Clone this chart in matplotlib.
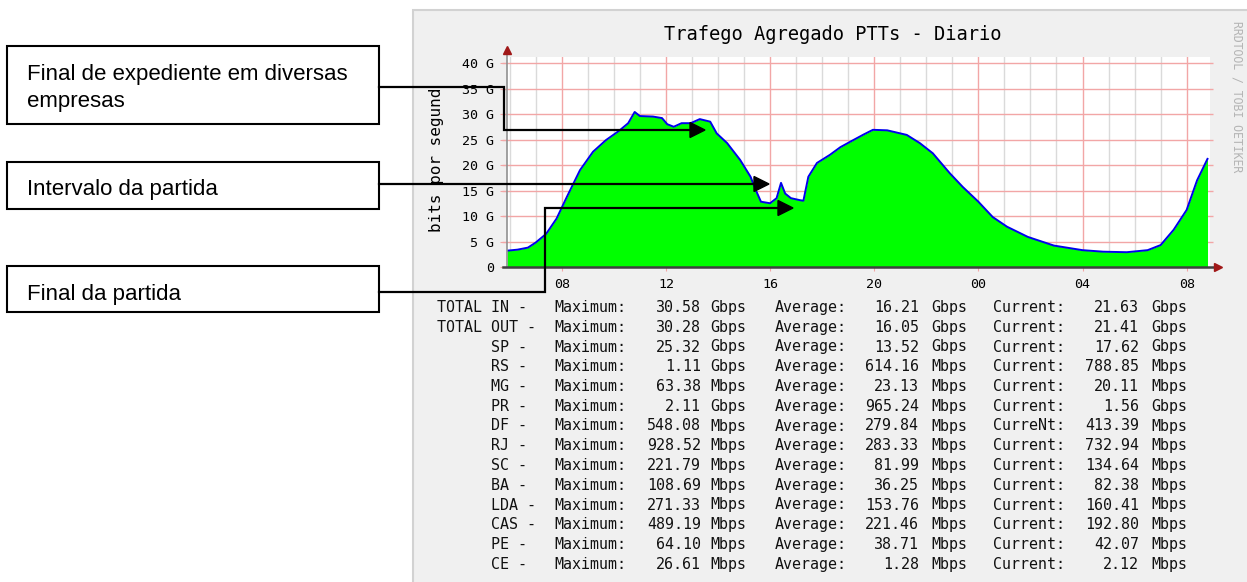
import matplotlib
matplotlib.use('Agg')
import matplotlib.pyplot as plt
from matplotlib.patches import Rectangle, Polygon

# traffic curve (hours since midnight of day 1, Gbps)
hours = [5.9, 6.3, 6.7, 7.0, 7.4, 7.8, 8.2, 8.7, 9.2, 9.7, 10.2, 10.55, 10.8, 11.0,
         11.5, 11.85, 12.05, 12.3, 12.6, 12.95, 13.3, 13.7, 13.95, 14.35, 14.85,
         15.25, 15.45, 15.65, 16.0, 16.25, 16.42, 16.58, 16.8, 17.15, 17.28, 17.47,
         17.8, 18.3, 18.7, 19.2, 19.6, 19.95, 20.5, 21.25, 21.75, 22.25, 22.9, 23.4,
         24.0, 24.55, 25.1, 25.9, 26.9, 28.0, 28.8, 29.7, 30.5, 31.0, 31.5, 32.0,
         32.4, 32.8]
gbps = [3.2, 3.4, 3.8, 4.8, 6.5, 9.5, 13.8, 19.0, 22.6, 24.9, 26.7, 28.2, 30.4, 29.6,
        29.5, 29.2, 28.0, 27.5, 28.2, 28.2, 29.0, 28.5, 26.2, 24.3, 21.0,
        17.7, 15.1, 12.8, 12.5, 13.5, 16.5, 14.4, 13.5, 13.1, 13.0, 17.7,
        20.4, 22.0, 23.5, 24.9, 26.0, 26.9, 26.8, 25.9, 24.3, 22.3, 18.4, 15.7,
        12.8, 9.8, 7.9, 5.9, 4.2, 3.3, 3.0, 2.9, 3.3, 4.3, 7.3, 11.2,
        17.0, 21.2]

xtick_pos = [8, 12, 16, 20, 24, 28, 32]
xtick_lab = ['08', '12', '16', '20', '00', '04', '08']
ytick_pos = [0, 5, 10, 15, 20, 25, 30, 35, 40]
ytick_lab = ['0', '5 G', '10 G', '15 G', '20 G', '25 G', '30 G', '35 G', '40 G']

# legend table
names = ['TOTAL IN -', 'TOTAL OUT -', 'SP -', 'RS -', 'MG -', 'PR -', 'DF -', 'RJ -',
         'SC -', 'BA -', 'LDA -', 'CAS -', 'PE -', 'CE -']
max_v = [30.58, 30.28, 25.32, 1.11, 63.38, 2.11, 548.08, 928.52, 221.79, 108.69, 271.33, 489.19, 64.10, 26.61]
max_u = ['Gbps', 'Gbps', 'Gbps', 'Gbps', 'Mbps', 'Gbps', 'Mbps', 'Mbps', 'Mbps', 'Mbps', 'Mbps', 'Mbps', 'Mbps', 'Mbps']
avg_v = [16.21, 16.05, 13.52, 614.16, 23.13, 965.24, 279.84, 283.33, 81.99, 36.25, 153.76, 221.46, 38.71, 1.28]
avg_u = ['Gbps', 'Gbps', 'Gbps', 'Mbps', 'Mbps', 'Mbps', 'Mbps', 'Mbps', 'Mbps', 'Mbps', 'Mbps', 'Mbps', 'Mbps', 'Mbps']
cur_v = [21.63, 21.41, 17.62, 788.85, 20.11, 1.56, 413.39, 732.94, 134.64, 82.38, 160.41, 192.80, 42.07, 2.12]
cur_u = ['Gbps', 'Gbps', 'Gbps', 'Mbps', 'Mbps', 'Gbps', 'Mbps', 'Mbps', 'Mbps', 'Mbps', 'Mbps', 'Mbps', 'Mbps', 'Mbps']
cur_lab = ['Current:'] * 6 + ['CurreNt:'] + ['Current:'] * 7

notes = ['Final de expediente em diversas\nempresas', 'Intervalo da partida', 'Final da partida']

W, H = 1247, 582
mono = 'DejaVu Sans Mono'
fig = plt.figure(figsize=(W / 100, H / 100), dpi=100)
fig.patch.set_facecolor('white')

# background layer in pixel coords
bg = fig.add_axes([0, 0, 1, 1], zorder=0)
bg.set_xlim(0, W)
bg.set_ylim(H, 0)
bg.axis('off')
bg.add_patch(Rectangle((413, 10), W - 413 + 5, H, facecolor='#f0f0f0', edgecolor='#d2d2d2', lw=1.5))
bg.text(833, 40, 'Trafego Agregado PTTs - Diario', family=mono, fontsize=13.5, ha='center', va='baseline')
bg.text(436, 160, 'bits por segund', family=mono, fontsize=11.5, rotation=90, ha='center', va='center')
bg.text(1237, 97, 'RRDTOOL / TOBI OETIKER', family=mono, fontsize=8.3, rotation=270,
        ha='center', va='center', color='#b4b4b4')

for i in range(len(names)):
    yb = 312 + i * 19.75
    kw = dict(family=mono, fontsize=10.8, va='baseline', color='#111111')
    bg.text(437 if names[i].startswith('TOTAL') else 491, yb, names[i], **kw)
    bg.text(554, yb, 'Maximum:', **kw)
    bg.text(701, yb, '%.2f' % max_v[i], ha='right', **kw)
    bg.text(710, yb, max_u[i], **kw)
    bg.text(775, yb, 'Average:', **kw)
    bg.text(919, yb, '%.2f' % avg_v[i], ha='right', **kw)
    bg.text(931, yb, avg_u[i], **kw)
    bg.text(993, yb, cur_lab[i], **kw)
    bg.text(1139, yb, '%.2f' % cur_v[i], ha='right', **kw)
    bg.text(1151, yb, cur_u[i], **kw)

# chart
x0, x1 = 5.896, 32.896
y0, y1 = 0, 41.18
ax = fig.add_axes([507 / W, (H - 267) / H, 703 / W, 210 / H], zorder=1)
ax.set_facecolor('white')
ax.set_xlim(x0, x1)
ax.set_ylim(y0, y1)
for s in ax.spines.values():
    s.set_visible(False)

for h in range(6, 33):
    if h % 4 != 0:
        ax.axvline(h, color='#dadada', lw=1, zorder=1)
for h in xtick_pos:
    ax.axvline(h, color='#f2a6a6', lw=1, zorder=1)
ax.hlines(ytick_pos[1:], x0 - 0.2, x1 + 0.12, color='#f2a6a6', lw=1, zorder=1, clip_on=False)

ax.fill_between(hours, 0, gbps, color='#00ff00', lw=0, zorder=2)
ax.plot(hours, gbps, color='#0000ee', lw=1.4, zorder=3)

ax.set_xticks(xtick_pos)
ax.set_xticklabels(xtick_lab, family=mono, fontsize=9.6)
ax.set_yticks(ytick_pos)
ax.set_yticklabels(ytick_lab, family=mono, fontsize=9.6)
ax.tick_params(axis='x', length=3, color='#f2a6a6', pad=5)
ax.tick_params(axis='y', length=5, color='#f2a6a6', pad=4)

# axis lines with arrows
ax.plot([0, 0], [0, 1.02], transform=ax.transAxes, color='#909090', lw=1.2, clip_on=False, zorder=4)
ax.plot([0], [1.035], transform=ax.transAxes, marker='^', ms=6, color='#a01818', clip_on=False, zorder=4)
ax.plot([-0.006, 1.005], [0, 0], transform=ax.transAxes, color='#404040', lw=1.8, clip_on=False, zorder=4)
ax.plot([1.012], [0], transform=ax.transAxes, marker='>', ms=6, color='#a01818', clip_on=False, zorder=4)

# annotation layer
ov = fig.add_axes([0, 0, 1, 1], zorder=3)
ov.set_xlim(0, W)
ov.set_ylim(H, 0)
ov.axis('off')
ov.patch.set_alpha(0)

boxes = [(7, 46, 372, 78), (7, 162, 372, 47), (7, 266, 372, 46)]
text_base = [80, 195, 300]
for (bx, by, bw, bh), t, tb in zip(boxes, notes, text_base):
    ov.add_patch(Rectangle((bx, by), bw, bh, facecolor='white', edgecolor='black', lw=1.5))
    for k, line in enumerate(t.split('\n')):
        ov.text(27, tb + 27 * k, line, family='Liberation Sans', fontsize=16, va='baseline')

paths = [[(379, 87), (504, 87), (504, 130), (705, 130)],
         [(379, 184), (769, 184)],
         [(379, 292), (545, 292), (545, 208), (793, 208)]]
for p in paths:
    xs = [q[0] for q in p]
    ys = [q[1] for q in p]
    tx, ty = p[-1]
    ov.plot(xs[:-1] + [tx - 10], ys, color='black', lw=1.6, solid_joinstyle='miter')
    ov.add_patch(Polygon([(tx, ty), (tx - 15, ty - 7.5), (tx - 15, ty + 7.5)], closed=True,
                         facecolor='black', edgecolor='black'))

fig.savefig('out.png', dpi=100)
